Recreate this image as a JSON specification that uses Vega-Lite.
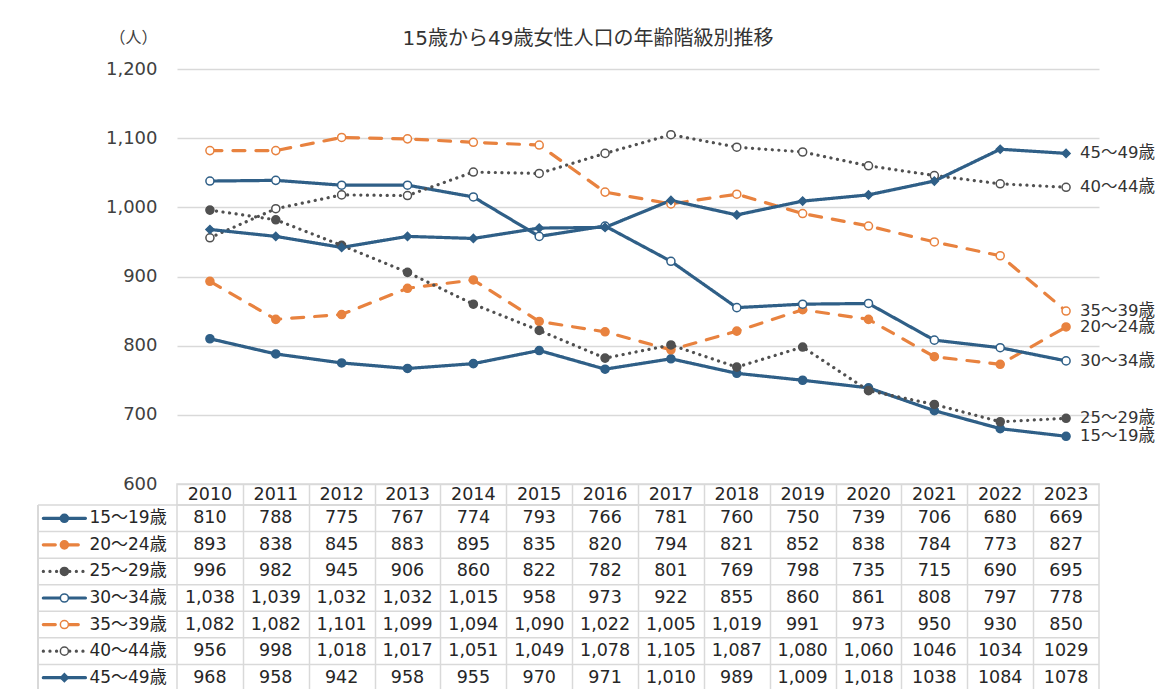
{
  "$schema": "https://vega.github.io/schema/vega-lite/v6.json",
  "padding": {"left": 36, "top": 29, "right": 0, "bottom": 0},
  "background": "white",
  "bounds": "flush",
  "spacing": 0,
  "config": {"font": "DejaVu Sans, Noto Sans CJK JP", "view": {"stroke": null}},
  "datasets": {
    "pop": [
      {"series": "15～19歳", "year": 2010, "value": 810, "label": "810"},
      {"series": "15～19歳", "year": 2011, "value": 788, "label": "788"},
      {"series": "15～19歳", "year": 2012, "value": 775, "label": "775"},
      {"series": "15～19歳", "year": 2013, "value": 767, "label": "767"},
      {"series": "15～19歳", "year": 2014, "value": 774, "label": "774"},
      {"series": "15～19歳", "year": 2015, "value": 793, "label": "793"},
      {"series": "15～19歳", "year": 2016, "value": 766, "label": "766"},
      {"series": "15～19歳", "year": 2017, "value": 781, "label": "781"},
      {"series": "15～19歳", "year": 2018, "value": 760, "label": "760"},
      {"series": "15～19歳", "year": 2019, "value": 750, "label": "750"},
      {"series": "15～19歳", "year": 2020, "value": 739, "label": "739"},
      {"series": "15～19歳", "year": 2021, "value": 706, "label": "706"},
      {"series": "15～19歳", "year": 2022, "value": 680, "label": "680"},
      {"series": "15～19歳", "year": 2023, "value": 669, "label": "669"},
      {"series": "20～24歳", "year": 2010, "value": 893, "label": "893"},
      {"series": "20～24歳", "year": 2011, "value": 838, "label": "838"},
      {"series": "20～24歳", "year": 2012, "value": 845, "label": "845"},
      {"series": "20～24歳", "year": 2013, "value": 883, "label": "883"},
      {"series": "20～24歳", "year": 2014, "value": 895, "label": "895"},
      {"series": "20～24歳", "year": 2015, "value": 835, "label": "835"},
      {"series": "20～24歳", "year": 2016, "value": 820, "label": "820"},
      {"series": "20～24歳", "year": 2017, "value": 794, "label": "794"},
      {"series": "20～24歳", "year": 2018, "value": 821, "label": "821"},
      {"series": "20～24歳", "year": 2019, "value": 852, "label": "852"},
      {"series": "20～24歳", "year": 2020, "value": 838, "label": "838"},
      {"series": "20～24歳", "year": 2021, "value": 784, "label": "784"},
      {"series": "20～24歳", "year": 2022, "value": 773, "label": "773"},
      {"series": "20～24歳", "year": 2023, "value": 827, "label": "827"},
      {"series": "25～29歳", "year": 2010, "value": 996, "label": "996"},
      {"series": "25～29歳", "year": 2011, "value": 982, "label": "982"},
      {"series": "25～29歳", "year": 2012, "value": 945, "label": "945"},
      {"series": "25～29歳", "year": 2013, "value": 906, "label": "906"},
      {"series": "25～29歳", "year": 2014, "value": 860, "label": "860"},
      {"series": "25～29歳", "year": 2015, "value": 822, "label": "822"},
      {"series": "25～29歳", "year": 2016, "value": 782, "label": "782"},
      {"series": "25～29歳", "year": 2017, "value": 801, "label": "801"},
      {"series": "25～29歳", "year": 2018, "value": 769, "label": "769"},
      {"series": "25～29歳", "year": 2019, "value": 798, "label": "798"},
      {"series": "25～29歳", "year": 2020, "value": 735, "label": "735"},
      {"series": "25～29歳", "year": 2021, "value": 715, "label": "715"},
      {"series": "25～29歳", "year": 2022, "value": 690, "label": "690"},
      {"series": "25～29歳", "year": 2023, "value": 695, "label": "695"},
      {"series": "30～34歳", "year": 2010, "value": 1038, "label": "1,038"},
      {"series": "30～34歳", "year": 2011, "value": 1039, "label": "1,039"},
      {"series": "30～34歳", "year": 2012, "value": 1032, "label": "1,032"},
      {"series": "30～34歳", "year": 2013, "value": 1032, "label": "1,032"},
      {"series": "30～34歳", "year": 2014, "value": 1015, "label": "1,015"},
      {"series": "30～34歳", "year": 2015, "value": 958, "label": "958"},
      {"series": "30～34歳", "year": 2016, "value": 973, "label": "973"},
      {"series": "30～34歳", "year": 2017, "value": 922, "label": "922"},
      {"series": "30～34歳", "year": 2018, "value": 855, "label": "855"},
      {"series": "30～34歳", "year": 2019, "value": 860, "label": "860"},
      {"series": "30～34歳", "year": 2020, "value": 861, "label": "861"},
      {"series": "30～34歳", "year": 2021, "value": 808, "label": "808"},
      {"series": "30～34歳", "year": 2022, "value": 797, "label": "797"},
      {"series": "30～34歳", "year": 2023, "value": 778, "label": "778"},
      {"series": "35～39歳", "year": 2010, "value": 1082, "label": "1,082"},
      {"series": "35～39歳", "year": 2011, "value": 1082, "label": "1,082"},
      {"series": "35～39歳", "year": 2012, "value": 1101, "label": "1,101"},
      {"series": "35～39歳", "year": 2013, "value": 1099, "label": "1,099"},
      {"series": "35～39歳", "year": 2014, "value": 1094, "label": "1,094"},
      {"series": "35～39歳", "year": 2015, "value": 1090, "label": "1,090"},
      {"series": "35～39歳", "year": 2016, "value": 1022, "label": "1,022"},
      {"series": "35～39歳", "year": 2017, "value": 1005, "label": "1,005"},
      {"series": "35～39歳", "year": 2018, "value": 1019, "label": "1,019"},
      {"series": "35～39歳", "year": 2019, "value": 991, "label": "991"},
      {"series": "35～39歳", "year": 2020, "value": 973, "label": "973"},
      {"series": "35～39歳", "year": 2021, "value": 950, "label": "950"},
      {"series": "35～39歳", "year": 2022, "value": 930, "label": "930"},
      {"series": "35～39歳", "year": 2023, "value": 850, "label": "850"},
      {"series": "40～44歳", "year": 2010, "value": 956, "label": "956"},
      {"series": "40～44歳", "year": 2011, "value": 998, "label": "998"},
      {"series": "40～44歳", "year": 2012, "value": 1018, "label": "1,018"},
      {"series": "40～44歳", "year": 2013, "value": 1017, "label": "1,017"},
      {"series": "40～44歳", "year": 2014, "value": 1051, "label": "1,051"},
      {"series": "40～44歳", "year": 2015, "value": 1049, "label": "1,049"},
      {"series": "40～44歳", "year": 2016, "value": 1078, "label": "1,078"},
      {"series": "40～44歳", "year": 2017, "value": 1105, "label": "1,105"},
      {"series": "40～44歳", "year": 2018, "value": 1087, "label": "1,087"},
      {"series": "40～44歳", "year": 2019, "value": 1080, "label": "1,080"},
      {"series": "40～44歳", "year": 2020, "value": 1060, "label": "1,060"},
      {"series": "40～44歳", "year": 2021, "value": 1046, "label": "1046"},
      {"series": "40～44歳", "year": 2022, "value": 1034, "label": "1034"},
      {"series": "40～44歳", "year": 2023, "value": 1029, "label": "1029"},
      {"series": "45～49歳", "year": 2010, "value": 968, "label": "968"},
      {"series": "45～49歳", "year": 2011, "value": 958, "label": "958"},
      {"series": "45～49歳", "year": 2012, "value": 942, "label": "942"},
      {"series": "45～49歳", "year": 2013, "value": 958, "label": "958"},
      {"series": "45～49歳", "year": 2014, "value": 955, "label": "955"},
      {"series": "45～49歳", "year": 2015, "value": 970, "label": "970"},
      {"series": "45～49歳", "year": 2016, "value": 971, "label": "971"},
      {"series": "45～49歳", "year": 2017, "value": 1010, "label": "1,010"},
      {"series": "45～49歳", "year": 2018, "value": 989, "label": "989"},
      {"series": "45～49歳", "year": 2019, "value": 1009, "label": "1,009"},
      {"series": "45～49歳", "year": 2020, "value": 1018, "label": "1,018"},
      {"series": "45～49歳", "year": 2021, "value": 1038, "label": "1038"},
      {"series": "45～49歳", "year": 2022, "value": 1084, "label": "1084"},
      {"series": "45～49歳", "year": 2023, "value": 1078, "label": "1078"}
    ]
  },
  "vconcat": [
    {
      "width": 922,
      "height": 415,
      "data": {"name": "pop"},
      "title": {"text": "15歳から49歳女性人口の年齢階級別推移", "fontSize": 20, "fontWeight": "normal", "color": "#333333", "anchor": "middle", "dx": -50, "offset": -20},
      "encoding": {
        "x": {"field": "year", "type": "quantitative", "scale": {"domain": [2009.5, 2023.5], "nice": false, "zero": false}, "axis": null},
        "y": {"field": "value", "type": "quantitative", "scale": {"domain": [600, 1200], "nice": false, "zero": false},
          "axis": {"values": [600, 700, 800, 900, 1000, 1100, 1200], "format": ",d", "title": "（人）", "titleAngle": 0, "titleAlign": "right", "titleBaseline": "middle", "titleX": -20, "titleY": -32, "titleFontWeight": "normal", "titleFontSize": 16, "titleColor": "#404040", "labelFontSize": 18, "labelColor": "#404040", "labelPadding": 20, "ticks": false, "domain": false, "gridColor": "#d9d9d9", "gridWidth": 1.5}}
      },
      "layer": [
        {
          "mark": {"type": "line", "strokeWidth": 3.2, "strokeCap": "round"},
          "encoding": {
            "stroke": {"field": "series", "type": "nominal", "scale": {"domain": ["15～19歳", "20～24歳", "25～29歳", "30～34歳", "35～39歳", "40～44歳", "45～49歳"], "range": ["#2f5f87", "#e8823f", "#505050", "#2f5f87", "#e8823f", "#505050", "#2f5f87"]}, "legend": null},
            "strokeDash": {"field": "series", "type": "nominal", "scale": {"domain": ["15～19歳", "20～24歳", "25～29歳", "30～34歳", "35～39歳", "40～44歳", "45～49歳"], "range": [[1, 0], [12, 11], [0.1, 6.5], [1, 0], [12, 11], [0.1, 6.5], [1, 0]]}, "legend": null}
          }
        },
        {
          "mark": {"type": "point", "filled": true, "opacity": 1, "strokeWidth": 1.5},
          "encoding": {
            "stroke": {"field": "series", "type": "nominal", "legend": null},
            "fill": {"field": "series", "type": "nominal", "scale": {"domain": ["15～19歳", "20～24歳", "25～29歳", "30～34歳", "35～39歳", "40～44歳", "45～49歳"], "range": ["#2f5f87", "#e8823f", "#505050", "#ffffff", "#ffffff", "#ffffff", "#2f5f87"]}, "legend": null},
            "shape": {"field": "series", "type": "nominal", "scale": {"domain": ["15～19歳", "20～24歳", "25～29歳", "30～34歳", "35～39歳", "40～44歳", "45～49歳"], "range": ["circle", "circle", "circle", "circle", "circle", "circle", "diamond"]}, "legend": null},
            "size": {"field": "series", "type": "nominal", "scale": {"domain": ["15～19歳", "20～24歳", "25～29歳", "30～34歳", "35～39歳", "40～44歳", "45～49歳"], "range": [65, 65, 65, 60, 60, 60, 170]}, "legend": null}
          }
        },
        {
          "transform": [{"filter": "datum.year == 2023"}],
          "mark": {"type": "text", "align": "left", "baseline": "middle", "dx": 14, "fontSize": 16.5, "color": "#333333"},
          "encoding": {"text": {"field": "series", "type": "nominal"}}
        }
      ]
    },
    {
      "width": 922,
      "height": 21,
      "data": {"name": "pop"},
      "transform": [{"filter": "datum.series == '15～19歳'"}],
      "view": {"stroke": "#d9d9d9", "strokeWidth": 1.5},
      "mark": {"type": "text", "fontSize": 17.5, "color": "#262626", "baseline": "middle"},
      "encoding": {
        "x": {"field": "year", "type": "quantitative", "scale": {"domain": [2009.5, 2023.5], "nice": false, "zero": false},
          "axis": {"values": [2010.5, 2011.5, 2012.5, 2013.5, 2014.5, 2015.5, 2016.5, 2017.5, 2018.5, 2019.5, 2020.5, 2021.5, 2022.5], "grid": true, "gridColor": "#d9d9d9", "gridWidth": 1.5, "labels": false, "ticks": false, "domain": false, "title": null}},
        "text": {"field": "year", "type": "quantitative", "format": "d"}
      }
    },
    {
      "width": 922,
      "height": 186,
      "data": {"name": "pop"},
      "view": {"stroke": "#d9d9d9", "strokeWidth": 1.5},
      "layer": [
        {
          "mark": {"type": "text", "fontSize": 17.5, "color": "#262626", "baseline": "middle"},
          "encoding": {
            "x": {"field": "year", "type": "quantitative", "scale": {"domain": [2009.5, 2023.5], "nice": false, "zero": false},
              "axis": {"values": [2010.5, 2011.5, 2012.5, 2013.5, 2014.5, 2015.5, 2016.5, 2017.5, 2018.5, 2019.5, 2020.5, 2021.5, 2022.5], "grid": true, "gridColor": "#d9d9d9", "gridWidth": 1.5, "labels": false, "ticks": false, "domain": false, "title": null}},
            "y": {"field": "series", "type": "nominal", "scale": {"domain": ["15～19歳", "20～24歳", "25～29歳", "30～34歳", "35～39歳", "40～44歳", "45～49歳"], "paddingInner": 0, "paddingOuter": 0}, "axis": null},
            "text": {"field": "label", "type": "nominal"}
          }
        },
        {
          "transform": [{"filter": "datum.year == 2010"}],
          "mark": {"type": "rule", "color": "#d9d9d9", "strokeWidth": 1.5},
          "encoding": {
            "x": {"datum": 2007.39, "type": "quantitative"},
            "x2": {"datum": 2023.5},
            "y": {"field": "series", "type": "nominal", "bandPosition": 0}
          }
        },
        {
          "transform": [{"filter": "datum.year == 2010"}],
          "mark": {"type": "rule", "color": "#d9d9d9", "strokeWidth": 1.5},
          "encoding": {
            "x": {"datum": 2007.39, "type": "quantitative"}
          }
        },
        {
          "transform": [{"filter": "datum.year == 2010"}],
          "mark": {"type": "rule", "strokeWidth": 3.2, "strokeCap": "round"},
          "encoding": {
            "x": {"datum": 2007.47, "type": "quantitative"},
            "x2": {"datum": 2008.11},
            "y": {"field": "series", "type": "nominal"},
            "stroke": {"field": "series", "type": "nominal", "scale": {"domain": ["15～19歳", "20～24歳", "25～29歳", "30～34歳", "35～39歳", "40～44歳", "45～49歳"], "range": ["#2f5f87", "#e8823f", "#505050", "#2f5f87", "#e8823f", "#505050", "#2f5f87"]}, "legend": null},
            "strokeDash": {"field": "series", "type": "nominal", "scale": {"domain": ["15～19歳", "20～24歳", "25～29歳", "30～34歳", "35～39歳", "40～44歳", "45～49歳"], "range": [[1, 0], [12, 11], [0.1, 6.5], [1, 0], [12, 11], [0.1, 6.5], [1, 0]]}, "legend": null}
          }
        },
        {
          "transform": [{"filter": "datum.year == 2010"}],
          "mark": {"type": "point", "filled": true, "opacity": 1, "strokeWidth": 1.5},
          "encoding": {
            "x": {"datum": 2007.79, "type": "quantitative"},
            "y": {"field": "series", "type": "nominal"},
            "stroke": {"field": "series", "type": "nominal", "legend": null},
            "fill": {"field": "series", "type": "nominal", "scale": {"domain": ["15～19歳", "20～24歳", "25～29歳", "30～34歳", "35～39歳", "40～44歳", "45～49歳"], "range": ["#2f5f87", "#e8823f", "#505050", "#ffffff", "#ffffff", "#ffffff", "#2f5f87"]}, "legend": null},
            "shape": {"field": "series", "type": "nominal", "scale": {"domain": ["15～19歳", "20～24歳", "25～29歳", "30～34歳", "35～39歳", "40～44歳", "45～49歳"], "range": ["circle", "circle", "circle", "circle", "circle", "circle", "diamond"]}, "legend": null},
            "size": {"field": "series", "type": "nominal", "scale": {"domain": ["15～19歳", "20～24歳", "25～29歳", "30～34歳", "35～39歳", "40～44歳", "45～49歳"], "range": [65, 65, 65, 60, 60, 60, 170]}, "legend": null}
          }
        },
        {
          "transform": [{"filter": "datum.year == 2010"}],
          "mark": {"type": "text", "align": "left", "baseline": "middle", "fontSize": 17, "color": "#262626"},
          "encoding": {
            "x": {"datum": 2008.17, "type": "quantitative"},
            "y": {"field": "series", "type": "nominal"},
            "text": {"field": "series", "type": "nominal"}
          }
        }
      ]
    }
  ]
}
